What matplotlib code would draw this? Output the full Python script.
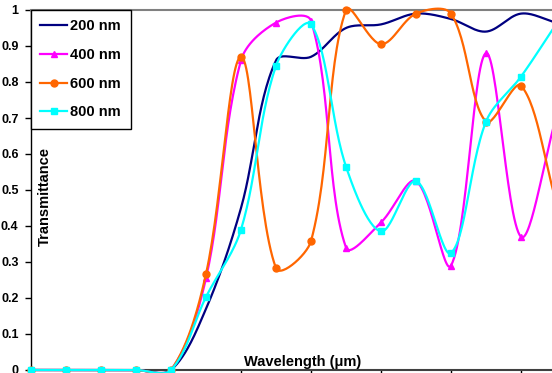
import numpy as np
import matplotlib
matplotlib.use('Agg')
import matplotlib.pyplot as plt

plt.rcParams['font.family'] = ['Liberation Sans', 'DejaVu Sans']

# sample index along the wavelength axis (no tick labels on the original)
idx = np.arange(16)
t200 = [0, 0, 0, 0, 0, 0.17, 0.45, 0.86, 0.87, 0.95, 0.96, 0.99, 0.975, 0.94, 0.99, 0.965]
t400 = [0, 0, 0, 0, 0, 0.255, 0.86, 0.965, 0.97, 0.34, 0.41, 0.525, 0.29, 0.88, 0.37, 0.70]
t600 = [0, 0, 0, 0, 0, 0.267, 0.87, 0.283, 0.358, 1.0, 0.905, 0.99, 0.99, 0.69, 0.79, 0.47]
t800 = [0, 0, 0, 0, 0, 0.203, 0.39, 0.845, 0.96, 0.565, 0.385, 0.525, 0.325, 0.69, 0.815, 0.96]

yticks = [0, 0.1, 0.2, 0.3, 0.4, 0.5, 0.6, 0.7, 0.8, 0.9, 1]
ytick_labels = ['0', '0.1', '0.2', '0.3', '0.4', '0.5', '0.6', '0.7', '0.8', '0.9', '1']

XPX, YPX = 35.0, 360.0   # pixels per x step / per unit of y, for the smoothing


def smooth(x, y, n=30):
    # spreadsheet-style smoothed line: Bezier segments whose tangents
    # are shortened next to long (steep) neighbouring segments
    p = np.column_stack([np.asarray(x, float)*XPX, np.asarray(y, float)*YPX])
    t = np.linspace(0, 1, n, endpoint=False)[:, None]
    out = []
    m = len(p)
    for i in range(m-1):
        p1, p2 = p[i], p[i+1]
        p0 = p[i-1] if i > 0 else p1
        p3 = p[i+2] if i+2 < m else p2
        d01 = np.hypot(*(p1-p0))
        d12 = np.hypot(*(p2-p1))
        d23 = np.hypot(*(p3-p2))
        c1 = p1 + (p2-p0)*d12/(d01+d12)/3 if d01+d12 > 0 else p1
        c2 = p2 - (p3-p1)*d12/(d12+d23)/3 if d12+d23 > 0 else p2
        out.append((1-t)**3*p1 + 3*(1-t)**2*t*c1 + 3*(1-t)*t**2*c2 + t**3*p2)
    out.append(p[-1:])
    out = np.vstack(out)
    return out[:, 0]/XPX, out[:, 1]/YPX


fig = plt.figure(figsize=(5.52, 3.73), dpi=100)
ax = fig.add_axes([31/552, 3/373, 1-31/552, 360/373])

series = [
    ('200 nm', t200, '#000080', None),
    ('400 nm', t400, '#FF00FF', '^'),
    ('600 nm', t600, '#FF6600', 'o'),
    ('800 nm', t800, '#00FFFF', 's'),
]
for label, vals, col, mk in series:
    sx, sy = smooth(idx, vals)
    ax.plot(sx, sy, color=col, lw=1.6, clip_on=False, zorder=3)
    if mk:
        ax.plot(idx, vals, ls='none', marker=mk, ms=5, color=col, clip_on=False, zorder=3)
    ax.plot([], [], color=col, lw=1.6, marker=mk, ms=5, label=label)

ax.set_xlim(0, 521/35)
ax.set_ylim(0, 1)
ax.set_xticks(np.arange(0, 15, 2))
ax.set_xticklabels([])
ax.set_yticks(yticks)
ax.set_yticklabels(ytick_labels, fontsize=9, fontweight='bold')
ax.tick_params(axis='x', direction='out', length=4, width=1)
ax.tick_params(axis='y', direction='out', length=4, width=1, pad=5)

ax.spines['right'].set_visible(False)
ax.spines['top'].set_color('#808080')
ax.spines['top'].set_linewidth(1.5)
ax.spines['left'].set_linewidth(1)
ax.spines['bottom'].set_linewidth(1.5)
ax.spines['bottom'].set_color('#404040')

ax.text(0.522, 0.011, 'Wavelength (\u03bcm)', transform=ax.transAxes,
        ha='center', va='baseline', fontsize=10.5, fontweight='bold')
ax.text(0.027, 0.483, 'Transmittance', transform=ax.transAxes, rotation=90,
        ha='center', va='center', fontsize=10.5, fontweight='bold')

leg = ax.legend(loc='upper left', bbox_to_anchor=(0, 1), borderaxespad=0,
                fancybox=False, edgecolor='black', framealpha=1,
                prop={'weight': 'bold', 'size': 10.5}, handlelength=1.8,
                handletextpad=0.25, labelspacing=1.0, borderpad=0.65)
leg.get_frame().set_linewidth(1)

fig.savefig('out.png', dpi=100)
